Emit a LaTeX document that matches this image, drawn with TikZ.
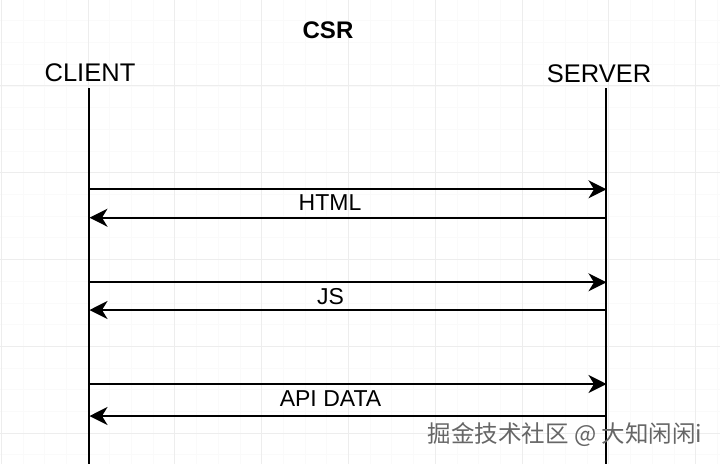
\documentclass[tikz,border=0pt]{standalone}
\usepackage{fontspec}
\setmainfont{Liberation Sans}
\newfontfamily\cjkfont{Noto Sans CJK SC}
\usetikzlibrary{arrows.meta,positioning}

\begin{document}
\begin{tikzpicture}[x=1pt,y=-1pt,>={Stealth[length=18pt,width=18pt,inset=5.5pt]},
 every node/.style={inner sep=0pt},
 party/.style={font=\fontsize{25.5}{30}\selectfont},
 msg/.style={font=\fontsize{23}{28}\selectfont},
 minorgrid/.style={black!2,line width=.8pt},
 majorgrid/.style={black!7,line width=.9pt},
 life/.style={line width=2pt},
 call/.style={->,line width=2pt}]
 \useasboundingbox (0,0) rectangle (720,464);
 % background grid
 \foreach \i in {0,...,33} \draw[minorgrid] ({1.2+21.7*\i},0) -- ({1.2+21.7*\i},464);
 \foreach \i in {0,...,22} \draw[minorgrid] (0,{-0.9+21.7*\i}) -- (720,{-0.9+21.7*\i});
 \foreach \i in {0,...,8} \draw[majorgrid] ({1.2+86.8*\i},0) -- ({1.2+86.8*\i},464);
 \foreach \i in {0,...,5} \draw[majorgrid] (0,{-0.9+86.8*\i}) -- (720,{-0.9+86.8*\i});
 % parties
 \node[font=\bfseries\fontsize{24}{28}\selectfont] (title) at (328,30) {CSR};
 \node[party] (client) at (90,73) {CLIENT};
 \node[party] (server) at (599,73.5) {SERVER};
 \coordinate (ctop) at (88.5,88);
 \coordinate (cbot) at (88.5,464);
 \coordinate (stop) at (606,88);
 \coordinate (sbot) at (606,464);
 \draw[life] (ctop)--(cbot);
 \draw[life] (stop)--(sbot);
 % messages
 \coordinate (c1) at (88.5,189.3); \coordinate (s1) at (606.5,189.3);
 \coordinate (c2) at (89.5,217.7); \coordinate (s2) at (606,217.7);
 \coordinate (c3) at (88.5,282.3); \coordinate (s3) at (606.5,282.3);
 \coordinate (c4) at (89.5,310);   \coordinate (s4) at (606,310);
 \coordinate (c5) at (88.5,384);   \coordinate (s5) at (606.5,384);
 \coordinate (c6) at (89.5,416);   \coordinate (s6) at (606,416);
 \draw[call] (c1)--(s1);
 \draw[call] (s2)--(c2);
 \draw[call] (c3)--(s3);
 \draw[call] (s4)--(c4);
 \draw[call] (c5)--(s5);
 \draw[call] (s6)--(c6);
 \node[msg] (html) at (330,203) {HTML};
 \node[msg] (js) at (330.5,297) {JS};
 \node[msg] (api) at (330.5,399) {API DATA};
 % watermark
 \node[font=\cjkfont\fontsize{23.5}{28}\selectfont,text=black!60] (mark) at (565,435) {掘金技术社区 @ 大知闲闲i};
\end{tikzpicture}
\end{document}
